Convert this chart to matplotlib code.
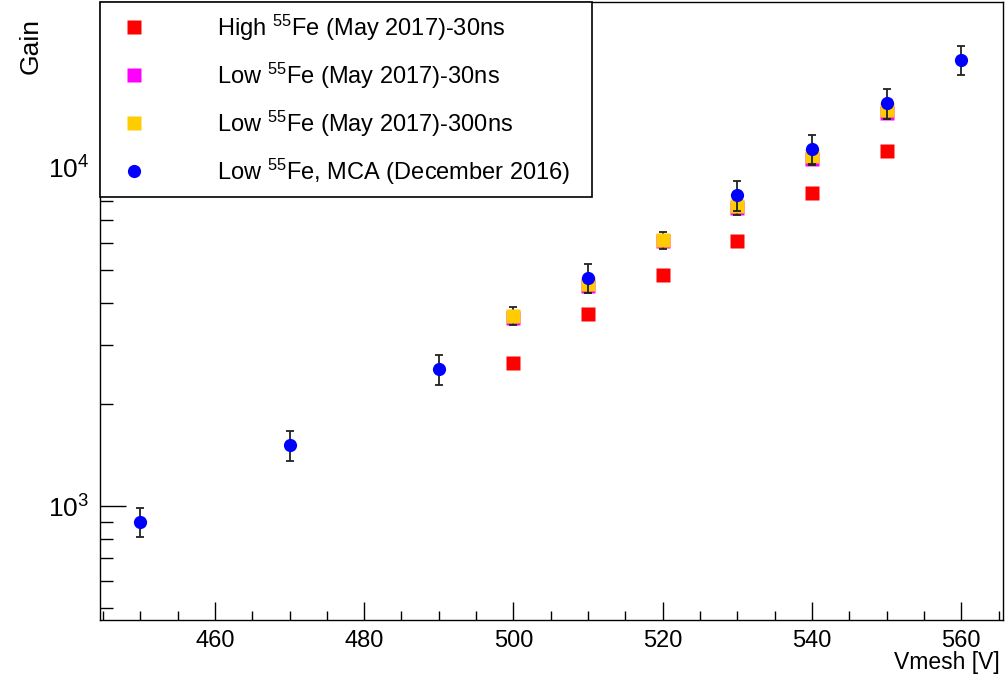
import math
import matplotlib
matplotlib.use("Agg")
import matplotlib.pyplot as plt
from matplotlib.lines import Line2D
from matplotlib.ticker import LogLocator, FixedLocator, MultipleLocator, NullFormatter, FuncFormatter

# ====================================
# Data
# ====================================

v_blue = [450, 470, 490, 510, 530, 540, 550, 560]
gain_blue = [900, 1515, 2540, 4730, 8300, 11400, 15550, 20900]
err_blue = [0.10 * g for g in gain_blue]

v_may = [500, 510, 520, 530, 540, 550]
gain_high30 = [2650, 3700, 4820, 6080, 8440, 11220]
gain_low30 = [3600, 4480, 6080, 7600, 10600, 14500]
gain_low300 = [3650, 4540, 6120, 7730, 10850, 14860]
err_low300 = [0.06 * g for g in gain_low300]

labels = [
    r"High $^{55}$Fe (May 2017)-30ns",
    r"Low $^{55}$Fe (May 2017)-30ns",
    r"Low $^{55}$Fe (May 2017)-300ns",
    r"Low $^{55}$Fe, MCA (December 2016)",
]

# ====================================
# Style
# ====================================

plt.rcParams["font.family"] = ["Liberation Sans", "DejaVu Sans"]
plt.rcParams["mathtext.fontset"] = "custom"
plt.rcParams["mathtext.rm"] = "Liberation Sans"
plt.rcParams["mathtext.it"] = "Liberation Sans"
plt.rcParams["mathtext.bf"] = "Liberation Sans"

fig = plt.figure(figsize=(10.05, 6.74), dpi=100)
ax = fig.add_axes([0.0995, 0.080, 0.8985, 0.917])

ms = 9.5
ebar = dict(ecolor="#222222", elinewidth=1.3, capsize=3, capthick=1.3)

ax.errorbar(v_may, gain_high30, fmt="s", color="#ff0000", ms=ms, mec="none", zorder=3)
ax.errorbar(v_may, gain_low30, fmt="s", color="#ff00ff", ms=ms, mec="none", zorder=3)
ax.errorbar(v_may, gain_low300, yerr=err_low300, fmt="s", color="#ffcc00", ms=ms,
            mec="none", zorder=4, **ebar)
ax.errorbar(v_blue, gain_blue, yerr=err_blue, fmt="o", color="#0000ff", ms=ms,
            mec="none", zorder=5, **ebar)

ax.set_yscale("log")
ax.set_xlim(444.6, 565.6)
ax.set_ylim(460, 30970)

ax.xaxis.set_major_locator(MultipleLocator(20))
ax.xaxis.set_minor_locator(MultipleLocator(5))
ax.yaxis.set_major_locator(FixedLocator([1e3, 1e4]))
ax.yaxis.set_major_formatter(FuncFormatter(lambda v, p: r"$10^{%d}$" % round(math.log10(v))))
ax.yaxis.set_minor_locator(LogLocator(base=10, subs=range(2, 10)))
ax.yaxis.set_minor_formatter(NullFormatter())

ax.tick_params(axis="both", which="both", direction="in", top=False, right=False,
               color="black", width=1)
ax.tick_params(axis="x", which="major", length=13, pad=7, labelsize=17)
ax.tick_params(axis="x", which="minor", length=6.5)
ax.tick_params(axis="y", which="major", length=19, pad=8, labelsize=19)
ax.tick_params(axis="y", which="minor", length=9.5)

for s in ax.spines.values():
    s.set_color("black")
    s.set_linewidth(1)

fig.text(0.995, 0.0, "Vmesh [V]", ha="right", va="bottom", fontsize=16.5)
fig.text(0.030, 0.932, "Gain", ha="center", va="center", rotation=90, fontsize=19)

# ====================================
# Legend
# ====================================

handles = [
    Line2D([], [], ls="none", marker="s", color="#ff0000", ms=ms, mec="none"),
    Line2D([], [], ls="none", marker="s", color="#ff00ff", ms=ms, mec="none"),
    Line2D([], [], ls="none", marker="s", color="#ffcc00", ms=ms, mec="none"),
    Line2D([], [], ls="none", marker="o", color="#0000ff", ms=ms, mec="none"),
]
leg = ax.legend(handles, labels, loc="upper left", bbox_to_anchor=(0.0, 1.0, 0.545, 0.0),
                mode="expand", borderaxespad=0, fontsize=17, frameon=True, fancybox=False,
                edgecolor="black", framealpha=1, labelspacing=0.75, handletextpad=2.5,
                borderpad=0.45, handlelength=2.0)
leg.get_frame().set_linewidth(1.2)
leg.set_zorder(10)

fig.savefig("out.png", dpi=100)
